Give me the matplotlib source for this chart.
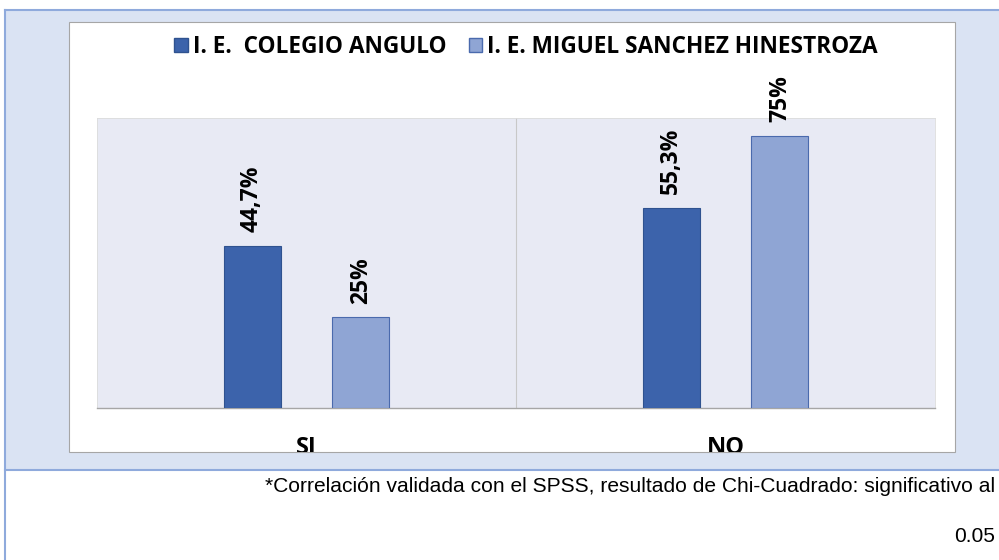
import numpy as np
import matplotlib.pyplot as plt
from matplotlib.patches import Rectangle, Patch
from matplotlib.transforms import Bbox, TransformedBbox

categories = ["SI", "NO"]
series_names = ["I. E.  COLEGIO ANGULO", "I. E. MIGUEL SANCHEZ HINESTROZA"]
colegio_angulo = [44.7, 55.3]
miguel_sanchez = [25, 75]
value_labels = [["44,7%", "55,3%"], ["25%", "75%"]]
note_line1 = "*Correlación validada con el SPSS, resultado de Chi-Cuadrado: significativo al"
note_line2 = "0.05"

W, H = 999, 560
fig = plt.figure(figsize=(W / 100, H / 100), dpi=100)


def fx(px):
    return px / W


def fy(py):
    return 1 - py / H


# outer light blue panel and borders
border = "#8faadc"
fig.patches.append(Rectangle((fx(5), fy(470)), fx(999) - fx(5), fy(10) - fy(470),
                             transform=fig.transFigure, facecolor="#dae3f3",
                             edgecolor="none", zorder=0))
fig.add_artist(plt.Line2D([fx(5), fx(999)], [fy(10), fy(10)], color=border, lw=1.5,
                          transform=fig.transFigure))
fig.add_artist(plt.Line2D([fx(5), fx(999)], [fy(470), fy(470)], color=border, lw=1.5,
                          transform=fig.transFigure))
fig.add_artist(plt.Line2D([fx(5), fx(5)], [fy(10), fy(560)], color=border, lw=1.5,
                          transform=fig.transFigure))

# white chart box
fig.patches.append(Rectangle((fx(69), fy(452)), fx(955) - fx(69), fy(22) - fy(452),
                             transform=fig.transFigure, facecolor="white",
                             edgecolor="#a6a6a6", lw=0.8, zorder=1))

ax = fig.add_axes([fx(97), fy(408), fx(935) - fx(97), fy(118) - fy(408)])
ax.set_facecolor("#e8eaf4")
ax.set_zorder(2)

dark = "#3c63ab"
light = "#8fa5d4"
x = np.arange(len(categories))
w = 0.136
off = 0.13
ax.bar(x - off, colegio_angulo, w, color=dark, edgecolor="#2f528f", lw=0.8, zorder=3)
ax.bar(x + off, miguel_sanchez, w, color=light, edgecolor="#4a6aad", lw=0.8, zorder=3)

lab_font = ["Open Sans", "DejaVu Sans"]
for i in range(len(categories)):
    ax.text(x[i] - off, colegio_angulo[i] + 3.8, value_labels[0][i], rotation=90,
            ha="center", va="bottom", fontsize=16.5, fontweight="bold",
            family=lab_font, clip_on=False)
    ax.text(x[i] + off, miguel_sanchez[i] + 3.8, value_labels[1][i], rotation=90,
            ha="center", va="bottom", fontsize=16.5, fontweight="bold",
            family=lab_font, clip_on=False)

ax.set_xlim(-0.5, 1.5)
ax.set_ylim(0, 80)
ax.axvline(0.5, color="#c8c8c8", lw=0.8, zorder=1)
ax.set_xticks([])
ax.set_yticks([])
for s in ["left", "right", "top"]:
    ax.spines[s].set_color("#dcdcdc")
    ax.spines[s].set_linewidth(0.6)
ax.spines["bottom"].set_color("#a6a6a6")
ax.spines["bottom"].set_linewidth(1.0)

# category labels, cut off by the bottom of the white box
clip = TransformedBbox(Bbox([[fx(69), fy(452)], [fx(955), fy(22)]]), fig.transFigure)
tr = ax.get_xaxis_transform()
for i, c in enumerate(categories):
    t = ax.text(x[i], -0.098, c, transform=tr, ha="center", va="top",
                fontsize=17, fontweight="bold", family=lab_font)
    t.set_clip_box(clip)
    t.set_clip_on(True)

handles = [Patch(facecolor=dark, edgecolor="#2f528f"),
           Patch(facecolor=light, edgecolor="#4a6aad")]
leg = fig.legend(handles, series_names, loc="center", ncol=2,
                 bbox_to_anchor=(fx(526), fy(47)), frameon=False,
                 handlelength=0.6, handleheight=0.6, handletextpad=0.2,
                 columnspacing=1.0, prop={"family": lab_font, "weight": "bold", "size": 16.3})

note_font = ["Liberation Sans", "DejaVu Sans"]
fig.text(fx(995), fy(487), note_line1, ha="right", va="center", fontsize=15.1,
         family=note_font)
fig.text(fx(995), fy(537), note_line2, ha="right", va="center", fontsize=15.1,
         family=note_font)

fig.savefig("out.png", dpi=100)
